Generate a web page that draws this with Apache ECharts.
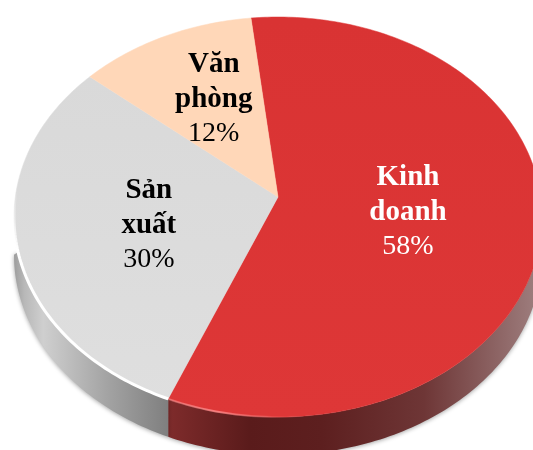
<!DOCTYPE html>
<html>
<head>
<meta charset="utf-8">
<style>
  html, body { margin: 0; padding: 0; background: #fff; }
  #chart { width: 533px; height: 450px; }
</style>
<script src="https://cdn.jsdelivr.net/npm/echarts@6/dist/echarts.min.js"></script>
</head>
<body>
<div id="chart"></div>
<script>
// data
var categories = [['Kinh', 'doanh'], ['Sản', 'xuất'], ['Văn', 'phòng']];
var shares = [58, 30, 12];

// look of each slice
var topColors = [['#d93333', '#de3737'], ['#d8d8d8', '#dfdfdf'], ['#ffd7b8', '#ffd7b8']];
var textColors = ['#ffffff', '#000000', '#000000'];
var labelRadius = [0.5, 0.5, 0.58];
var labelNudge = [[-1, 1], [0, 4], [4, -2]];
var wallColors = [
  [[0, '#7e2b2b'], [0.22, '#5a1b1b'], [0.42, '#5d1f1f'], [0.7, '#6e3636'], [1, '#9c7b7b']],
  [[0, '#a0a0a0'], [0.06, '#b8b8b8'], [0.18, '#cfcfcf'], [0.6, '#a2a2a2'], [1, '#7d7d7d']],
  [[0, '#ffd7b8'], [1, '#ffd7b8']]
];
var wallRange = [[170, 533], [15, 172], [0, 533]];

// the tilted disc: ellipse + perspective shift of the centre
var cx = 278, cy = 217, rx = 264, ry = 200;
var persp = 0.1, wallDrop = 38, startDeg = -6.5;

// angle is clockwise from the top of the flat disc
function project(deg, r) {
  var a = deg * Math.PI / 180;
  var x = r * Math.sin(a), y = r * Math.cos(a);
  var k = 1 + persp * y;
  return [cx + rx * x * Math.sqrt(1 - persp * persp) / k, cy - ry * (y + persp) / k];
}

function arcPoints(from, to) {
  var pts = [];
  var n = Math.ceil(Math.abs(to - from));
  for (var i = 0; i <= n; i++) pts.push(project(from + (to - from) * i / n, 1));
  return pts;
}

function stops(list) {
  return list.map(function (c) { return { offset: c[0], color: c[1] }; });
}

var total = shares.reduce(function (s, v) { return s + v; }, 0);

function renderSlice(params, api) {
  var i = params.dataIndex;
  var before = 0;
  for (var j = 0; j < i; j++) before += shares[j];
  var from = startDeg + before / total * 360;
  var to = from + api.value(0) / total * 360;
  var arc = arcPoints(from, to);
  var children = [];

  // side wall, only the part of the rim below the widest point shows
  if (i < 2) {
    var front = arc.filter(function (p, n) {
      return i === 0 ? p[1] > cy - 10 : n === 0 || arc[n - 1][1] > cy;
    });
    var low = front.map(function (p) { return [p[0], p[1] + wallDrop]; }).reverse();
    var upper = front.filter(function (p) { return i === 0 || p[1] > cy + 33; });
    children.push({
      type: 'polygon', z2: 1,
      shape: { points: upper.concat(low) },
      style: {
        fill: {
          type: 'linear', global: true,
          x: wallRange[i][0], y: 0, x2: wallRange[i][1], y2: 0,
          colorStops: stops(wallColors[i])
        },
        shadowBlur: 4, shadowOffsetY: 1, shadowColor: 'rgba(0,0,0,0.35)'
      }
    });
  }

  // top face
  children.push({
    type: 'polygon', z2: 2,
    shape: { points: [project(0, 0)].concat(arc) },
    style: {
      fill: {
        type: 'linear', global: true, x: 0, y: 20, x2: 0, y2: 415,
        colorStops: stops([[0, topColors[i][0]], [1, topColors[i][1]]])
      },
      stroke: topColors[i][1], lineWidth: 0.5
    }
  });

  // rim highlight on the front edge
  if (i === 1) {
    children.push({
      type: 'polyline', z2: 3,
      shape: { points: arcPoints(from, from + 78) },
      style: {
        fill: null, lineWidth: 3,
        stroke: {
          type: 'linear', global: true, x: 0, y: 190, x2: 0, y2: 250,
          colorStops: stops([[0, 'rgba(255,255,255,0)'], [1, 'rgba(255,255,255,1)']])
        }
      }
    });
  }
  if (i === 0) {
    children.push({
      type: 'polyline', z2: 3,
      shape: { points: arcPoints(to - 30, to) },
      style: {
        fill: null, lineWidth: 2,
        stroke: {
          type: 'linear', global: true, x: 172, y: 0, x2: 300, y2: 0,
          colorStops: stops([[0, 'rgba(255,150,150,0.5)'], [0.35, 'rgba(255,140,140,0.8)'], [1, 'rgba(255,120,120,0)']])
        }
      }
    });
  }

  // label
  var mid = project((from + to) / 2, labelRadius[i]);
  children.push({
    type: 'text', z2: 4,
    style: {
      x: mid[0] + labelNudge[i][0], y: mid[1] + labelNudge[i][1],
      align: 'center', verticalAlign: 'middle',
      text: categories[i].map(function (w) { return '{n|' + w + '}'; }).join('\n') + '\n{p|' + api.value(0) + '%}',
      fill: textColors[i],
      rich: {
        n: { fontFamily: 'Liberation Serif', fontWeight: 'bold', fontSize: 29, lineHeight: 35, fill: textColors[i] },
        p: { fontFamily: 'Liberation Serif', fontSize: 28, lineHeight: 33, fill: textColors[i] }
      }
    }
  });

  return { type: 'group', children: children };
}

var myChart = echarts.init(document.getElementById('chart'), null, { renderer: 'canvas' });
myChart.setOption({
  animation: false,
  series: [{
    type: 'custom',
    coordinateSystem: 'none',
    silent: true,
    renderItem: renderSlice,
    data: shares
  }]
});
</script>
</body>
</html>
